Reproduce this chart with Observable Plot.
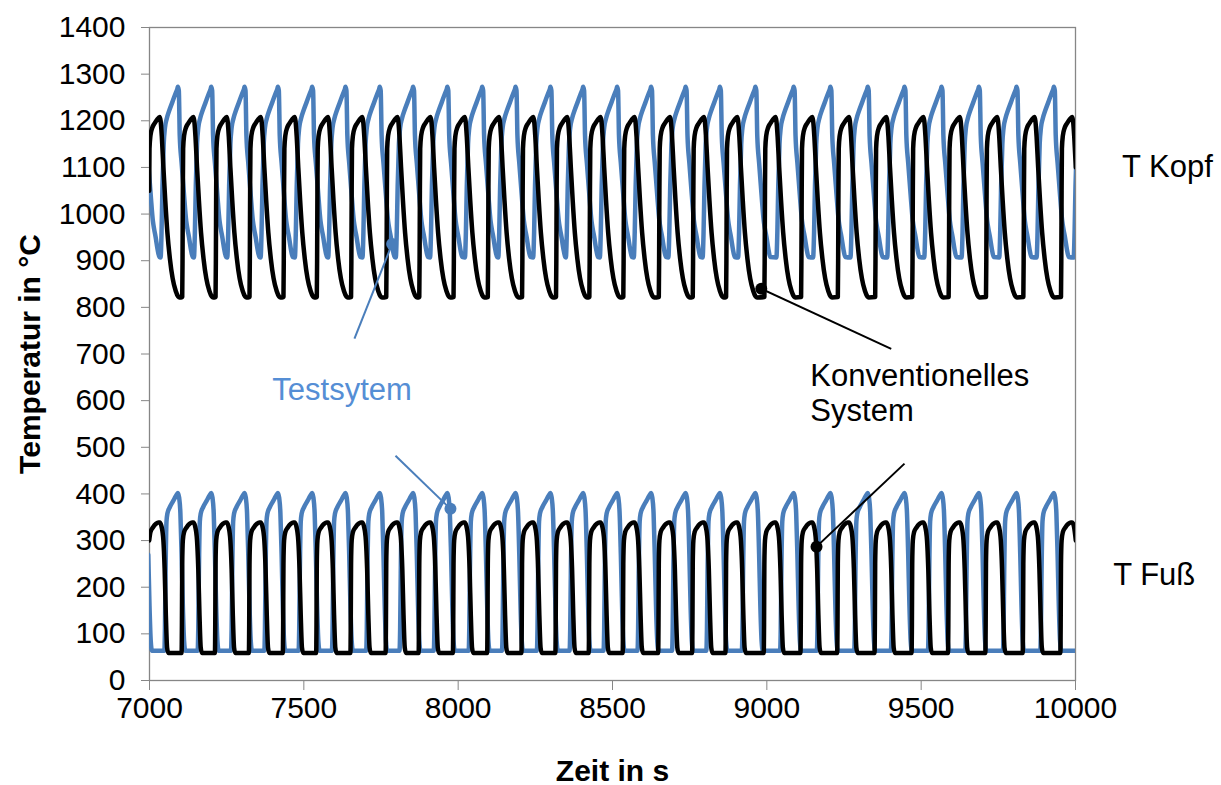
<!DOCTYPE html>
<html>
<head>
<meta charset="utf-8">
<script src="https://cdn.jsdelivr.net/npm/d3@7"></script>
<script src="https://cdn.jsdelivr.net/npm/@observablehq/plot@0.6"></script>
<style>
  body { margin: 0; background: #fff; }
  svg { font-family: "Liberation Sans", Arial, sans-serif; }
</style>
</head>
<body>
<div id="chart"></div>
<script>
// Zeitpunkte der Zyklusmaxima (s)
const testPeaks = [6984, 7092, 7200, 7308, 7416, 7527, 7635, 7746, 7854, 7965, 8078, 8186, 8299, 8405,
  8515, 8625, 8737, 8848, 8963, 9087, 9206, 9327, 9446, 9566, 9687, 9809, 9930, 10050];
const convPeaks = [6925, 7033, 7142, 7250, 7360, 7470, 7578, 7689, 7803, 7910, 8021, 8132, 8243, 8353,
  8461, 8571, 8686, 8796, 8904, 9028, 9147, 9266, 9387, 9507, 9625, 9746, 9867, 9989, 10109];

// Verlauf eines Zyklus relativ zum Maximum: Zeitversatz (s) und Temperatur (°C)
const testKopfOffset = [-56, -53, -50, -46, -42, -36, -28, -18, -8, -2, 0, 3, 6, 12, 20, 27, 31, 36, 42, 48];
const testKopfTemp   = [907, 960, 1060, 1150, 1185, 1205, 1222, 1240, 1258, 1268, 1273, 1265, 1168, 1110, 1040, 985, 968, 950, 925, 908];

const convKopfOffset = [-36, -35, -34, -33, -30, -24, -16, -8, 0, 3, 7, 12, 18, 25, 33, 42, 52, 60, 64];
const convKopfTemp   = [822, 900, 1050, 1140, 1168, 1185, 1195, 1203, 1208, 1200, 1165, 1100, 1030, 960, 905, 862, 835, 823, 821];

const testFussOffset = [-44, -42, -40, -37, -34, -26, -16, -6, 0, 4, 8, 12, 16, 20, 24];
const testFussTemp   = [64, 110, 230, 340, 358, 372, 384, 396, 402, 392, 360, 270, 160, 85, 64];

const convFussOffset = [-38, -37, -36, -34, -30, -22, -12, -4, 0, 6, 12, 16, 20, 24, 28];
const convFussTemp   = [59, 120, 250, 300, 318, 328, 336, 339, 339, 330, 300, 240, 140, 70, 59];

// Messzeitraum und Achsen
const timeRange = [7000, 10000];
const xTicks = [7000, 7500, 8000, 8500, 9000, 9500, 10000];
const yTicks = [0, 100, 200, 300, 400, 500, 600, 700, 800, 900, 1000, 1100, 1200, 1300, 1400];

// Beschriftungspfeile: Punkt auf der Kurve und Ende der Linie
const calloutTime    = [7786, 7975, 8982, 9161];
const calloutTemp    = [936, 368, 840, 287];
const calloutEndTime = [7664, 7797, 9403, 9446];
const calloutEndTemp = [733, 482, 711, 465];
const calloutSystem  = ["test", "test", "conv", "conv"];

// Textbeschriftungen
const labelText = ["Testsytem", "Konventionelles\nSystem", "T Kopf", "T Fuß"];
const labelTime = [7398, 9141, 10151, 10122];
const labelTemp = [626, 618, 1104, 229];
const labelSystem = ["test", "conv", "axis", "axis"];

const blue = "#4a7ebb";
const blueText = "#558ed5";
const black = "#000000";

// Zyklusverlauf an jedes Maximum anhängen; Punkte im Messzeitraum plus je ein Nachbar
// außerhalb, damit die Linie bis an den Rand der Zeichenfläche reicht
function cycles(peaks, offsets, temps) {
  const pts = peaks.flatMap(p => offsets.map((o, i) => ({t: p + o, T: temps[i]})));
  const inside = d => d.t >= timeRange[0] && d.t <= timeRange[1];
  return pts.filter((d, i) => inside(d) || (pts[i + 1] && inside(pts[i + 1])) || (pts[i - 1] && inside(pts[i - 1])));
}

const testKopf = cycles(testPeaks, testKopfOffset, testKopfTemp);
const convKopf = cycles(convPeaks, convKopfOffset, convKopfTemp);
const testFuss = cycles(testPeaks, testFussOffset, testFussTemp);
const convFuss = cycles(convPeaks, convFussOffset, convFussTemp);

const callouts = calloutTime.map((t, i) => ({
  t, T: calloutTemp[i], t2: calloutEndTime[i], T2: calloutEndTemp[i], sys: calloutSystem[i]
}));
const labels = labelText.map((text, i) => ({text, t: labelTime[i], T: labelTemp[i], sys: labelSystem[i]}));
const colorOf = s => s === "test" ? blue : black;

const lineOpts = {x: "t", y: "T", strokeWidth: 4.5, curve: "monotone-x", clip: true, strokeLinejoin: "round"};

const chart = Plot.plot({
  width: 1221,
  height: 785,
  marginLeft: 149,
  marginRight: 146,
  marginTop: 27,
  marginBottom: 105,
  x: {domain: timeRange},
  y: {domain: [0, 1400]},
  style: {fontFamily: "'Liberation Sans', Arial, sans-serif", background: "#fff"},
  marks: [
    Plot.frame({stroke: "#868686", strokeWidth: 1.3}),
    Plot.axisY({ticks: yTicks, tickSize: 8, tickPadding: 16, fontSize: 30, stroke: "#868686", fill: "#000", label: null, tickFormat: d3.format("d")}),
    Plot.axisX({ticks: xTicks, tickSize: 10, tickPadding: 6, fontSize: 30, stroke: "#868686", fill: "#000", label: null, tickFormat: d3.format("d")}),
    Plot.text(["Temperatur in °C"], {frameAnchor: "left", textAnchor: "middle", rotate: -90, dx: -119, fontSize: 30, fontWeight: "bold", fill: "#000"}),
    Plot.text(["Zeit in s"], {frameAnchor: "bottom", dy: 100, fontSize: 30, fontWeight: "bold", fill: "#000"}),
    Plot.line(testKopf, {...lineOpts, stroke: blue}),
    Plot.line(testFuss, {...lineOpts, stroke: blue}),
    Plot.line(convKopf, {...lineOpts, stroke: black}),
    Plot.line(convFuss, {...lineOpts, stroke: black}),
    Plot.link(callouts, {x1: "t", y1: "T", x2: "t2", y2: "T2", stroke: d => colorOf(d.sys), strokeWidth: 2}),
    Plot.dot(callouts, {x: "t", y: "T", r: 6, fill: d => colorOf(d.sys), stroke: null}),
    Plot.text(labels, {x: "t", y: "T", text: "text", textAnchor: "start", fontSize: 31, lineHeight: 1.15,
      fill: d => d.sys === "test" ? blueText : "#000"})
  ]
});

document.getElementById("chart").appendChild(chart);
</script>
</body>
</html>
